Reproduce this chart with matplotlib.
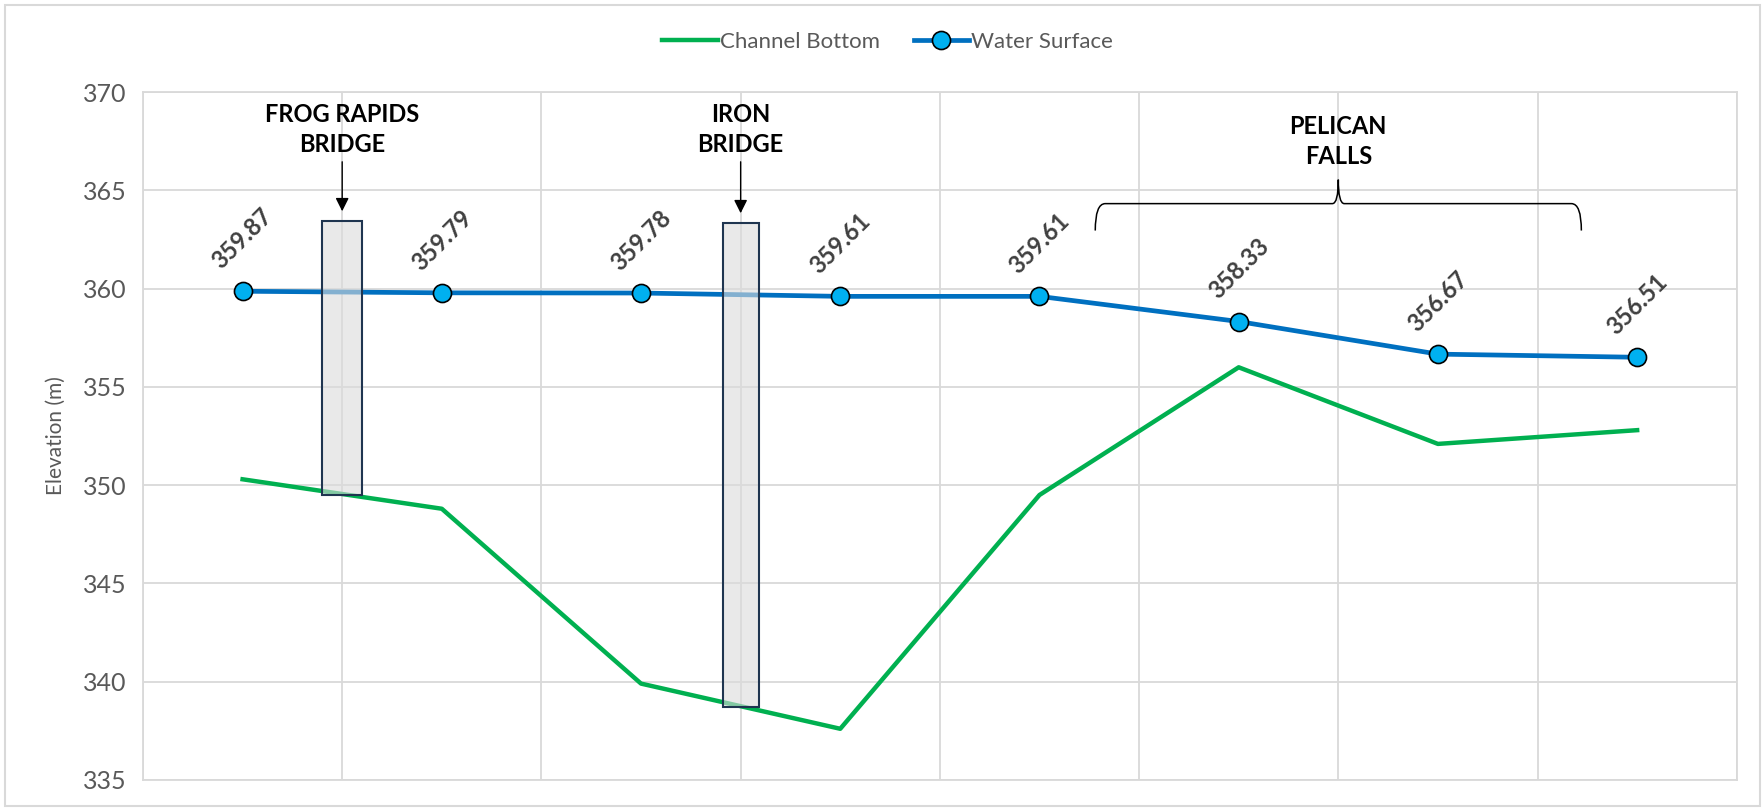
import matplotlib
matplotlib.use("Agg")
import matplotlib.pyplot as plt
from matplotlib.patches import Rectangle, PathPatch
from matplotlib.path import Path

plt.rcParams["font.family"] = ["Lato", "DejaVu Sans"]

# data
stations = [1, 2, 3, 4, 5, 6, 7, 8]
water_surface = [359.87, 359.79, 359.78, 359.61, 359.61, 358.33, 356.67, 356.51]
channel_bottom = [350.3, 348.8, 339.9, 337.6, 349.5, 356.0, 352.1, 352.8]

bridge_names = ["FROG RAPIDS\nBRIDGE", "IRON\nBRIDGE"]
bridge_x = [1.5, 3.5]
bridge_top = [363.45, 363.35]
bridge_bottom = [349.5, 338.7]
bridge_width = [0.2, 0.18]

falls_name = "PELICAN\nFALLS"
falls_start, falls_end = 5.28, 7.72

yticks = [335, 340, 345, 350, 355, 360, 365, 370]


def main():
    fig = plt.figure(figsize=(17.65, 8.09), dpi=100)
    ax = fig.add_axes([0.081, 0.036, 0.903, 0.85])

    # chart border
    fig.patches.append(Rectangle((0.003, 0.004), 0.994, 0.99, transform=fig.transFigure,
                                 fill=False, edgecolor="#d9d9d9", linewidth=1.5))

    ax.plot(stations, channel_bottom, color="#00b050", linewidth=3.2, label="Channel Bottom", zorder=3)
    ax.plot(stations, water_surface, color="#0070c0", linewidth=3.4, marker="o", markersize=13,
            markerfacecolor="#00b0f0", markeredgecolor="black", markeredgewidth=1.2,
            label="Water Surface", zorder=4)

    for x, v in zip(stations, water_surface):
        ax.annotate(f"{v:.2f}", (x, v), xytext=(0, 38), textcoords="offset points",
                    rotation=45, ha="center", va="center", fontsize=17, fontweight="bold",
                    color="#404040", zorder=6)

    # bridges
    for name, bx, top, bot, w in zip(bridge_names, bridge_x, bridge_top, bridge_bottom, bridge_width):
        ax.add_patch(Rectangle((bx - w / 2, bot), w, top - bot, facecolor=(0.86, 0.86, 0.86, 0.6),
                               edgecolor="#1f3550", linewidth=1.5, zorder=5))
        ax.annotate("", xy=(bx, top + 0.35), xytext=(bx, 366.6),
                    arrowprops=dict(arrowstyle="-|>", color="black", lw=1, mutation_scale=20))
        ax.text(bx, 368.1, name, ha="center", va="center", fontsize=17, fontweight="bold",
                linespacing=1.35)

    # pelican falls brace
    mid = (falls_start + falls_end) / 2
    yb, ye, yt = 364.33, 362.96, 365.55
    verts = [(falls_start, ye), (falls_start, yb), (falls_start + 0.05, yb),
             (mid - 0.03, yb), (mid, yb), (mid, yt),
             (mid, yb), (mid + 0.03, yb),
             (falls_end - 0.05, yb), (falls_end, yb), (falls_end, ye)]
    codes = [Path.MOVETO, Path.CURVE3, Path.CURVE3,
             Path.LINETO, Path.CURVE3, Path.CURVE3,
             Path.CURVE3, Path.CURVE3,
             Path.LINETO, Path.CURVE3, Path.CURVE3]
    ax.add_patch(PathPatch(Path(verts, codes), fill=False, edgecolor="black", linewidth=1.1))
    ax.text(mid, 367.5, falls_name, ha="center", va="center", fontsize=17, fontweight="bold",
            linespacing=1.35)

    ax.set_xlim(0.5, 8.5)
    ax.set_ylim(335, 370)
    ax.set_yticks(yticks)
    ax.set_xticks([s - 0.5 for s in stations] + [8.5])
    ax.set_xticklabels([])
    ax.tick_params(axis="both", length=0)
    ax.tick_params(axis="y", labelsize=18, labelcolor="#595959", pad=12)
    ax.grid(True, color="#d9d9d9", linewidth=1.3)
    ax.set_axisbelow(True)
    for s in ax.spines.values():
        s.set_color("#d9d9d9")
        s.set_linewidth(1.3)

    ax.set_ylabel("Elevation (m)", fontsize=15, color="#595959", labelpad=12)

    fig.legend(loc="center", bbox_to_anchor=(0.503, 0.948), ncol=2, frameon=False, fontsize=16,
               handlelength=2.5, handletextpad=0.1, columnspacing=1.5, labelcolor="#595959")

    fig.savefig("out.png", dpi=100)


if __name__ == "__main__":
    main()
